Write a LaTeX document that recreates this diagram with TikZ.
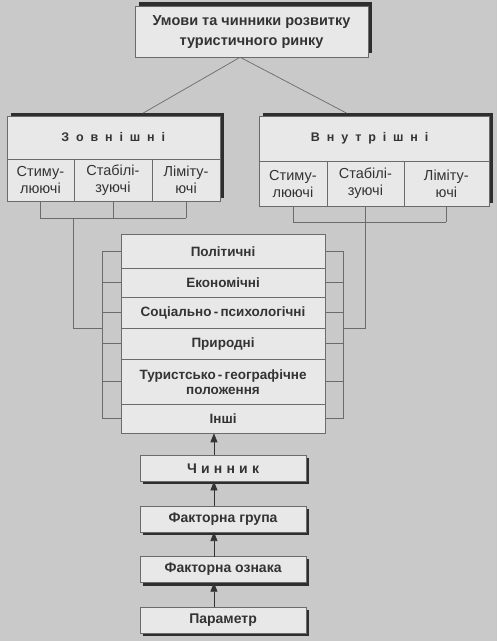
\documentclass[tikz,border=0pt]{standalone}
\usepackage{fontspec}
\setmainfont{Liberation Sans}
\newfontfamily\wideletters[LetterSpace=55]{Liberation Sans}
\newfontfamily\midletters[LetterSpace=30]{Liberation Sans}
\usetikzlibrary{calc}
\usetikzlibrary{positioning}
\usetikzlibrary{shadows}
\usetikzlibrary{arrows.meta}
\definecolor{scanbg}{gray}{0.79}
\definecolor{paper}{gray}{0.91}
\definecolor{ink}{gray}{0.2}
\definecolor{rule}{gray}{0.42}
\definecolor{shade}{gray}{0.18}
\tikzstyle{headnode} = [draw=rule, fill=paper, text=ink, align=center, font=\bfseries\fontsize{14.5}{20}\selectfont, minimum width=8.19cm, minimum height=1.79cm, drop shadow={shadow xshift=0.14cm, shadow yshift=0.14cm, fill=shade, opacity=1}]
\tikzstyle{groupnode} = [draw=rule, fill=paper, outer sep=0pt, drop shadow={shadow xshift=0.15cm, shadow yshift=0.12cm, fill=shade, opacity=1}]
\tikzstyle{titlenode} = [text=ink, font=\wideletters\bfseries\fontsize{12.5}{14}\selectfont]
\tikzstyle{cellnode} = [draw=rule, fill=paper, text=ink, align=center, outer sep=0pt, inner sep=0pt, font=\fontsize{14.5}{17}\selectfont]
\tikzstyle{rownode} = [draw=rule, fill=paper, text=ink, align=center, outer sep=0pt, inner sep=0pt, minimum width=7.17cm, font=\bfseries\fontsize{13.5}{15}\selectfont]
\tikzstyle{chainnode} = [draw=rule, fill=paper, text=ink, outer sep=0pt, minimum width=5.83cm, minimum height=0.92cm, font=\bfseries\fontsize{14}{15}\selectfont, drop shadow={shadow xshift=0.1cm, shadow yshift=-0.1cm, fill=shade, opacity=1}]
\tikzstyle{linkline} = [draw=rule, line width=0.7pt]
\tikzstyle{uparrow} = [draw=ink, line width=0.7pt, -{Triangle[length=9pt,width=7pt]}]

\begin{document}
\begin{tikzpicture}
\fill[scanbg] (0,0) rectangle (17.47,-22.53);
\node[headnode] (head) at (8.84,-1.11) {Умови та чинники розвитку\\туристичного ринку};

% external group
\node[groupnode, minimum width=7.49cm, minimum height=2.99cm] (ext) at ($(head)+(-4.85,-4.46)$) {};
\node[cellnode, anchor=south west, minimum width=2.35cm, minimum height=1.48cm] (ext_stim) at (ext.south west) {Стиму-\\люючі};
\node[cellnode, right=0pt of ext_stim, minimum width=2.75cm, minimum height=1.48cm] (ext_stab) {Стабілі-\\зуючі};
\node[cellnode, right=0pt of ext_stab, minimum width=2.39cm, minimum height=1.48cm] (ext_lim) {Ліміту-\\ючі};
\node[titlenode] (ext_title) at ($(ext.north)!0.5!(ext_stab.north)$) {Зовнішні};

% internal group
\node[groupnode, minimum width=8.08cm, minimum height=3.16cm] (int) at ($(head)+(4.30,-4.55)$) {};
\node[cellnode, anchor=south west, minimum width=2.39cm, minimum height=1.58cm] (int_stim) at (int.south west) {Стиму-\\люючі};
\node[cellnode, right=0pt of int_stim, minimum width=2.71cm, minimum height=1.58cm] (int_stab) {Стабілі-\\зуючі};
\node[cellnode, right=0pt of int_stab, minimum width=2.98cm, minimum height=1.58cm] (int_lim) {Ліміту-\\ючі};
\node[titlenode] (int_title) at ($(int.north)!0.5!(int_stab.north)$) {Внутрішні};

\draw[linkline] ($(ext.north)+(1.04,0.1)$) -- ($(head.south)+(-0.4,0)$) -- ($(int.north)+(-0.95,0.1)$);

% factor list
\node[rownode, minimum height=1.2cm] (pol) at ($(head)+(-1.00,-7.72)$) {Політичні};
\node[rownode, minimum height=1.02cm, below=0pt of pol] (eco) {Економічні};
\node[rownode, minimum height=1.09cm, below=0pt of eco] (soc) {Соціально\,-\,психологічні};
\node[rownode, minimum height=1.09cm, below=0pt of soc] (nat) {Природні};
\node[rownode, minimum height=1.58cm, below=0pt of nat] (geo) {Туристсько\,-\,географічне\\положення};
\node[rownode, minimum height=1.02cm, below=0pt of geo] (oth) {Інші};

\foreach \r in {pol,eco,soc,nat,geo,oth}
  \draw[linkline] (\r.west) -- ++(-0.67,0) (\r.east) -- ++(0.63,0);
\draw[linkline] ($(pol.west)+(-0.67,0)$) -- ($(oth.west)+(-0.67,0)$);
\draw[linkline] ($(pol.east)+(0.63,0)$) -- ($(oth.east)+(0.63,0)$);

% group links
\coordinate (ext_bar) at ($(ext.south)+(0,-0.6)$);
\coordinate (int_bar) at ($(int.south)+(0,-0.56)$);
\foreach \c in {ext_stim,ext_stab,ext_lim}
  \draw[linkline] (\c.south) -- (\c.south |- ext_bar);
\foreach \c in {int_stim,int_stab,int_lim}
  \draw[linkline] (\c.south) -- (\c.south |- int_bar);
\draw[linkline] (ext_stim.south |- ext_bar) -- (ext_lim.south |- ext_bar);
\draw[linkline] (int_stim.south |- int_bar) -- (int_lim.south |- int_bar);
\draw[linkline] (ext_stim.south east |- ext_bar) |- ($(soc.south west)+(-0.67,0)$);
\draw[linkline] (int_stab.south) |- ($(soc.south east)+(0.63,0)$);

% chain
\node[chainnode, below=0.77cm of oth] (factor) {\midletters Чинник};
\node[chainnode, below=0.86cm of factor] (group) {Факторна група};
\node[chainnode, below=0.86cm of group] (sign) {Факторна ознака};
\node[chainnode, below=0.86cm of sign] (param) {Параметр};
\foreach \lo/\hi in {factor/oth,group/factor,sign/group,param/sign}
  \draw[uparrow] ([xshift=-0.32cm]\lo.north) -- ([xshift=-0.32cm]\hi.south);
\end{tikzpicture}
\end{document}
